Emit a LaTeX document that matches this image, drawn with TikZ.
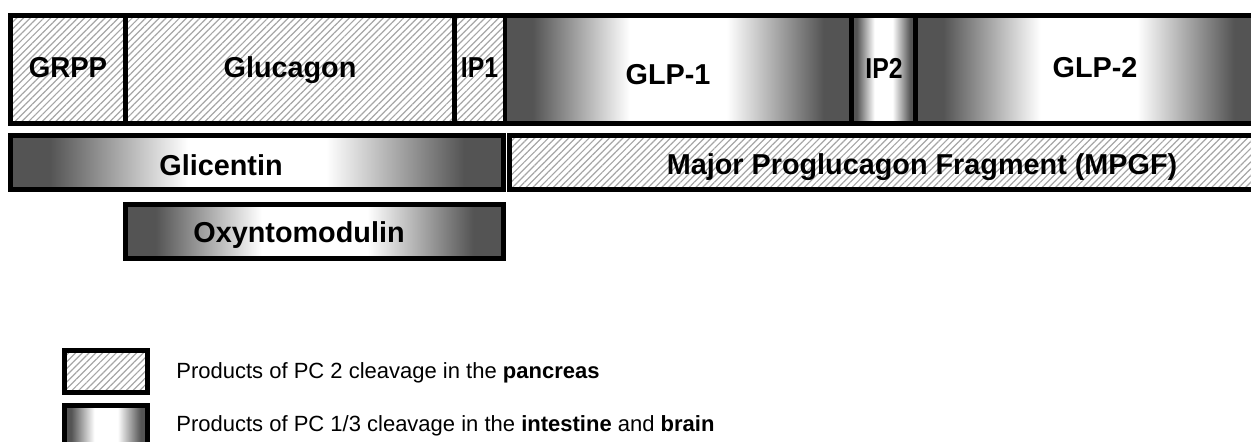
\documentclass[tikz,border=0pt]{standalone}
\usepackage{fontspec}
\setmainfont{Liberation Sans}
\usetikzlibrary{patterns.meta}
\definecolor{dk}{RGB}{84,84,84}
\pgfdeclarehorizontalshading{pgshade}{100bp}{color(0bp)=(dk); color(25bp)=(dk); color(29bp)=(dk); color(43bp)=(white); color(57bp)=(white); color(71bp)=(dk); color(75bp)=(dk); color(100bp)=(dk)}
\tikzset{
  seg/.style={draw=black, line width=2.4pt, inner sep=0pt, outer sep=0pt},
  hatch/.style={pattern={Lines[angle=45,distance=2.4pt,line width=0.6pt]}, pattern color=black!35},
  grad/.style={shading=pgshade},
  lbl/.style={font=\bfseries\fontsize{14.4}{17}\selectfont, inner sep=0pt, anchor=base},
  leg/.style={font=\fontsize{11}{13}\selectfont, inner sep=0pt, anchor=base west}
}
\begin{document}
\begin{tikzpicture}[x=0.5pt,y=-0.5pt]
\path[use as bounding box, clip] (0,0) rectangle (1251,442);
% top bar
\node[seg,hatch,minimum width=57.5pt,minimum height=54pt] (grpp) at (68,69.5) {};
\node[seg,hatch,minimum width=164.5pt,minimum height=54pt] (gluc) at (290,69.5) {};
\node[seg,hatch,minimum width=25.25pt,minimum height=54pt] (ip1) at (479.75,69.5) {};
\node[seg,grad,minimum width=173.25pt,minimum height=54pt] (glp1) at (678.25,69.5) {};
\node[seg,grad,minimum width=32pt,minimum height=54pt] (ip2) at (883.5,69.5) {};
\node[seg,grad,minimum width=173.25pt,minimum height=54pt] (glp2) at (1088.75,69.5) {};
% second row
\node[seg,grad,minimum width=246.5pt,minimum height=27pt] (glic) at (257,162.5) {};
\node[seg,hatch,minimum width=376.25pt,minimum height=27pt] (mpgf) at (885.75,162.5) {};
% third row
\node[seg,grad,minimum width=189pt,minimum height=27pt] (oxy) at (314.5,231.5) {};
% legend boxes
\node[seg,hatch,minimum width=41.5pt,minimum height=21pt] (lb1) at (106,371.5) {};
\node[seg,grad,minimum width=41.5pt,minimum height=21pt] (lb2) at (106,426.5) {};
% labels
\node[lbl] (tgrpp) at (68,77.5) {\scalebox{0.96}[1]{GRPP}};
\node[lbl] (tgluc) at (290,78) {Glucagon};
\node[lbl] (tip1) at (479.5,78) {\scalebox{0.86}[1]{IP1}};
\node[lbl] (tglp1) at (668,85) {GLP-1};
\node[lbl] (tip2) at (884,79) {\scalebox{0.86}[1]{IP2}};
\node[lbl] (tglp2) at (1095,78) {GLP-2};
\node[lbl] (tglic) at (221,176) {Glicentin};
\node[lbl] (tmpgf) at (922,175) {Major Proglucagon Fragment (MPGF)};
\node[lbl] (toxy) at (299,243) {Oxyntomodulin};
\node[leg] (l1) at (176,378.5) {Products of PC 2 cleavage in the \textbf{pancreas}};
\node[leg] (l2) at (176,431) {Products of PC 1/3 cleavage in the \textbf{intestine} and \textbf{brain}};
\end{tikzpicture}
\end{document}
